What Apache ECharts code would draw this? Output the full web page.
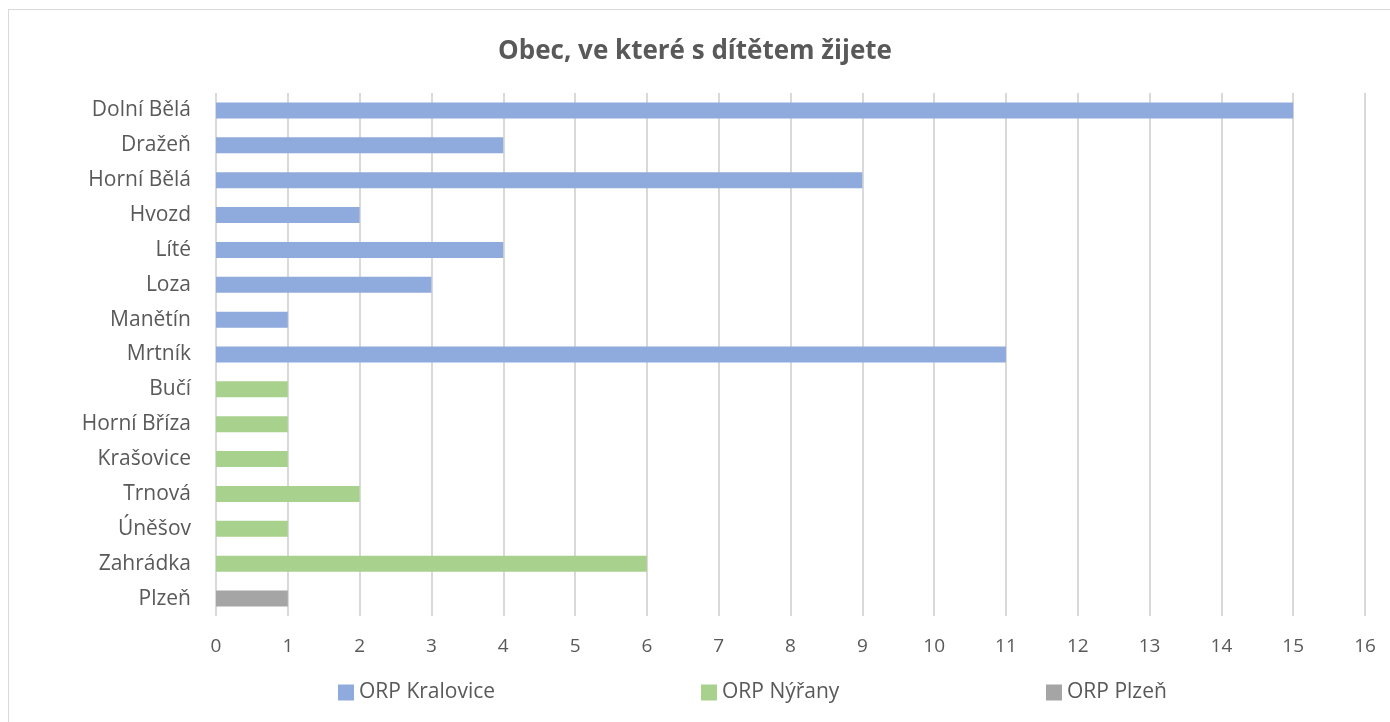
<!DOCTYPE html>
<html>
<head>
<meta charset="utf-8">
<script src="https://cdn.jsdelivr.net/npm/echarts@6/dist/echarts.min.js"></script>
<style>
  html, body { margin: 0; padding: 0; background: #fff; }
  #frame {
    position: absolute; left: 8px; top: 9px; width: 1400px; height: 730px;
    border: 1px solid #d9d9d9; box-sizing: border-box;
  }
  #chart { position: absolute; left: 0; top: 0; width: 1390px; height: 722px; }
</style>
</head>
<body>
<div id="frame"></div>
<div id="chart"></div>
<script>
// kategorie shora dolu
var obce = ["Dolní Bělá", "Dražeň", "Horní Bělá", "Hvozd", "Líté", "Loza", "Manětín", "Mrtník",
            "Bučí", "Horní Bříza", "Krašovice", "Trnová", "Úněšov", "Zahrádka", "Plzeň"];
var kralovice = [15, 4, 9, 2, 4, 3, 1, 11, null, null, null, null, null, null, null];
var nyrany = [null, null, null, null, null, null, null, null, 1, 1, 1, 2, 1, 6, null];
var plzen = [null, null, null, null, null, null, null, null, null, null, null, null, null, null, 1];
var xTicks = [0, 16, 1];

var font = "Open Sans";
var chart = echarts.init(document.getElementById("chart"));

function legendAt(name, left) {
  return {
    data: [name], left: left, top: 677,
    itemWidth: 16, itemHeight: 16, itemGap: 4,
    icon: "rect",
    textStyle: { fontFamily: font, fontSize: 21, color: "#595959" }
  };
}

var option = {
  animation: false,
  title: {
    text: "Obec, ve které s dítětem žijete",
    left: "center", top: 34,
    textStyle: { fontFamily: font, fontSize: 26, fontWeight: "bold", color: "#595959" }
  },
  legend: [
    legendAt("ORP Kralovice", 333),
    legendAt("ORP Nýřany", 696),
    legendAt("ORP Plzeň", 1041)
  ],
  grid: { left: 216, right: 25, top: 93, bottom: 106, containLabel: false },
  xAxis: {
    type: "value", min: xTicks[0], max: xTicks[1], interval: xTicks[2],
    axisLine: { show: false }, axisTick: { show: false },
    splitLine: { lineStyle: { color: "#d9d9d9", width: 2 } },
    axisLabel: { fontFamily: font, fontSize: 19, color: "#595959", margin: 21 }
  },
  yAxis: {
    type: "category", data: obce, inverse: true,
    axisLine: { show: false }, axisTick: { show: false },
    axisLabel: { fontFamily: font, fontSize: 21, color: "#595959", margin: 25 }
  },
  series: [
    { name: "ORP Kralovice", type: "bar", stack: "a", data: kralovice, barWidth: 16,
      itemStyle: { color: "#8faadc" } },
    { name: "ORP Nýřany", type: "bar", stack: "a", data: nyrany, barWidth: 16,
      itemStyle: { color: "#a9d18e" } },
    { name: "ORP Plzeň", type: "bar", stack: "a", data: plzen, barWidth: 16,
      itemStyle: { color: "#a5a5a5" } }
  ]
};
chart.setOption(option);
</script>
</body>
</html>
